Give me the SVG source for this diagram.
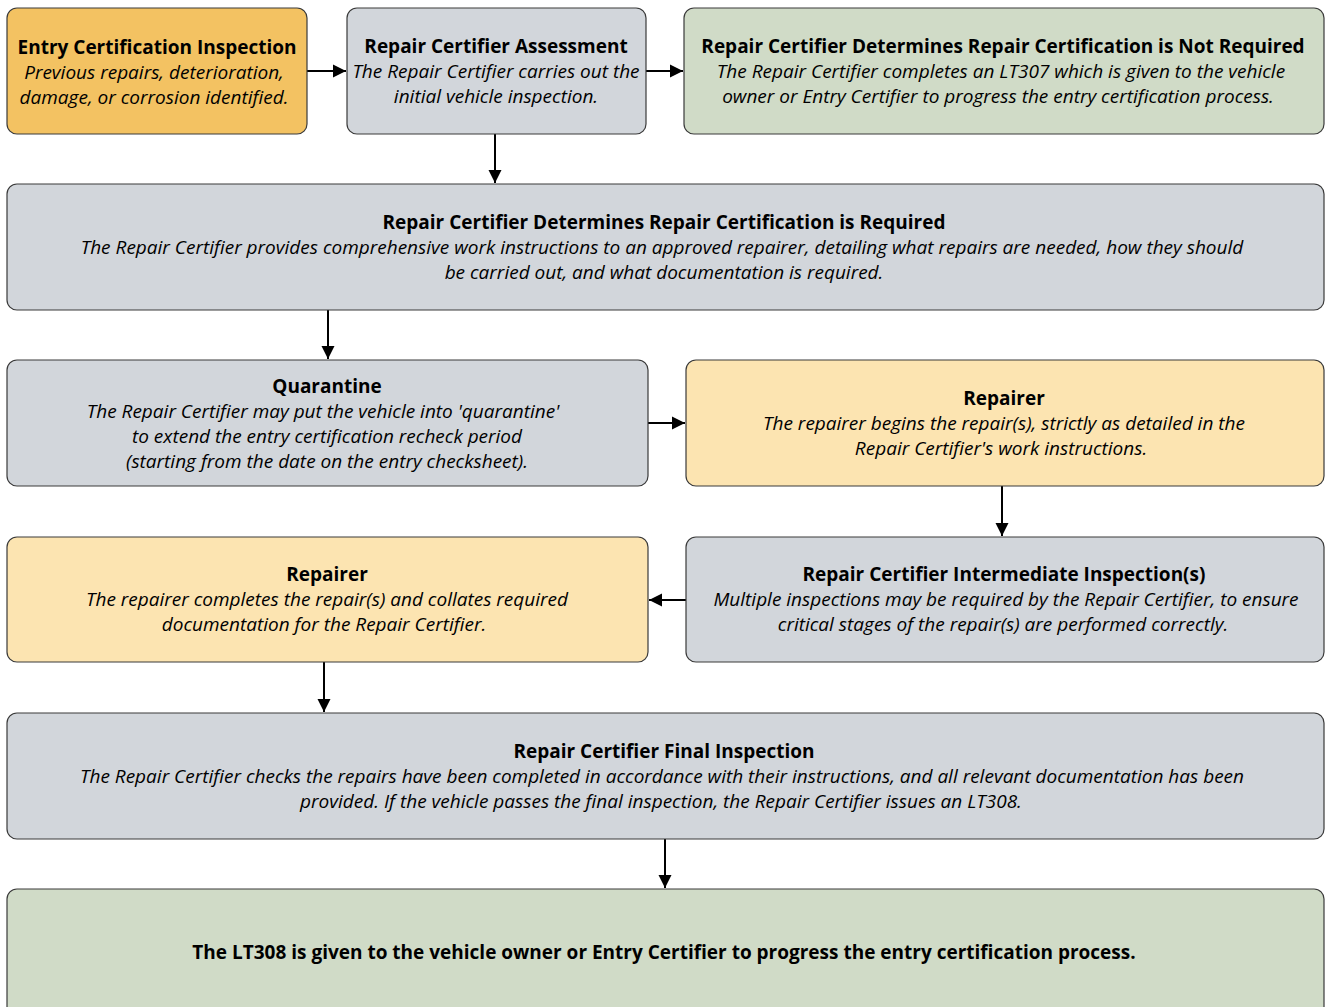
<svg xmlns="http://www.w3.org/2000/svg" width="1325" height="1007" viewBox="0 0 1325 1007">
<defs>
<marker id="ah" viewBox="0 0 10 10" refX="10" refY="5" markerWidth="13" markerHeight="14" markerUnits="userSpaceOnUse" orient="auto"><path d="M0,0 L10,5 L0,10 z" fill="#000"/></marker>
<style>
.b{stroke:#3a3a3a;stroke-width:1.2}
.or{fill:#F3C262}.gr{fill:#D2D6DB}.gn{fill:#D0DBC7}.ye{fill:#FCE4B1}
text{font-family:"Open Sans","Liberation Sans",sans-serif;fill:#000;text-anchor:middle}
.t{font-weight:bold;font-size:19px}
.d{font-style:italic;font-size:19px}
.c{stroke:#000;stroke-width:2;fill:none;marker-end:url(#ah)}
</style>
</defs>
<rect width="1325" height="1007" fill="#fff"/>
<g id="connectors">
<path class="c" d="M307,71 H346"/>
<path class="c" d="M646,71 H683"/>
<path class="c" d="M495,134 V183"/>
<path class="c" d="M328,310 V359"/>
<path class="c" d="M648,423 H685"/>
<path class="c" d="M1002,486 V536"/>
<path class="c" d="M686,600 H649"/>
<path class="c" d="M324,662 V712"/>
<path class="c" d="M665,839 V888"/>
</g>
<g id="n1"><rect class="b or" x="7" y="8" width="300" height="126" rx="10"/>
<text class="t" x="157" y="54">Entry Certification Inspection</text>
<text class="d" x="154" y="79">Previous repairs, deterioration,</text>
<text class="d" x="154" y="104">damage, or corrosion identified.</text></g>
<g id="n2"><rect class="b gr" x="347" y="8" width="299" height="126" rx="10"/>
<text class="t" x="496" y="53">Repair Certifier Assessment</text>
<text class="d" x="496" y="78">The Repair Certifier carries out the</text>
<text class="d" x="496" y="103">initial vehicle inspection.</text></g>
<g id="n3"><rect class="b gn" x="684" y="8" width="640" height="126" rx="10"/>
<text class="t" x="1003" y="53">Repair Certifier Determines Repair Certification is Not Required</text>
<text class="d" x="1001" y="78">The Repair Certifier completes an LT307 which is given to the vehicle</text>
<text class="d" x="998" y="103">owner or Entry Certifier to progress the entry certification process.</text></g>
<g id="n4"><rect class="b gr" x="7" y="184" width="1317" height="126" rx="10"/>
<text class="t" x="664" y="229">Repair Certifier Determines Repair Certification is Required</text>
<text class="d" x="662" y="254">The Repair Certifier provides comprehensive work instructions to an approved repairer, detailing what repairs are needed, how they should</text>
<text class="d" x="664" y="279">be carried out, and what documentation is required.</text></g>
<g id="n5"><rect class="b gr" x="7" y="360" width="641" height="126" rx="10"/>
<text class="t" x="327" y="393">Quarantine</text>
<text class="d" x="323" y="418">The Repair Certifier may put the vehicle into 'quarantine'</text>
<text class="d" x="327" y="443">to extend the entry certification recheck period</text>
<text class="d" x="327" y="468">(starting from the date on the entry checksheet).</text></g>
<g id="n6"><rect class="b ye" x="686" y="360" width="638" height="126" rx="10"/>
<text class="t" x="1004" y="405">Repairer</text>
<text class="d" x="1004" y="430">The repairer begins the repair(s), strictly as detailed in the</text>
<text class="d" x="1001" y="455">Repair Certifier's work instructions.</text></g>
<g id="n7"><rect class="b ye" x="7" y="537" width="641" height="125" rx="10"/>
<text class="t" x="327" y="581">Repairer</text>
<text class="d" x="327" y="606">The repairer completes the repair(s) and collates required</text>
<text class="d" x="324" y="631">documentation for the Repair Certifier.</text></g>
<g id="n8"><rect class="b gr" x="686" y="537" width="638" height="125" rx="10"/>
<text class="t" x="1004" y="581">Repair Certifier Intermediate Inspection(s)</text>
<text class="d" x="1006" y="606">Multiple inspections may be required by the Repair Certifier, to ensure</text>
<text class="d" x="1003" y="631">critical stages of the repair(s) are performed correctly.</text></g>
<g id="n9"><rect class="b gr" x="7" y="713" width="1317" height="126" rx="10"/>
<text class="t" x="664" y="758">Repair Certifier Final Inspection</text>
<text class="d" x="662" y="783">The Repair Certifier checks the repairs have been completed in accordance with their instructions, and all relevant documentation has been</text>
<text class="d" x="661" y="808">provided. If the vehicle passes the final inspection, the Repair Certifier issues an LT308.</text></g>
<g id="n10"><rect class="b gn" x="7" y="889" width="1317" height="140" rx="10"/>
<text class="t" x="664" y="959">The LT308 is given to the vehicle owner or Entry Certifier to progress the entry certification process.</text></g>
</svg>
